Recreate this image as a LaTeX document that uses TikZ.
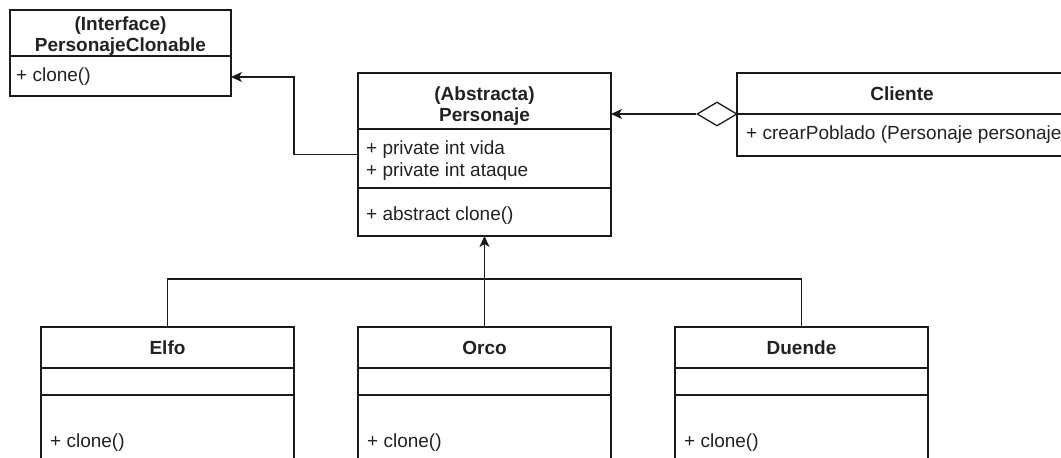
\documentclass[tikz,border=0pt]{standalone}
\usepackage{fontspec}
\setmainfont{Liberation Sans}
\usetikzlibrary{arrows.meta,shapes.geometric}
\definecolor{linec}{HTML}{1A1A1A}
\definecolor{txt}{HTML}{222222}
\begin{document}
\begin{tikzpicture}[x=1pt,y=-1pt,
  classbox/.style={draw=linec, line width=1.3pt, fill=white, anchor=north west,
    inner sep=0pt, outer sep=0pt, minimum width=253pt},
  sepline/.style={draw=linec, line width=1.3pt},
  classtitle/.style={font=\bfseries\fontsize{19}{21}\selectfont, text=txt,
    align=center, inner sep=0pt},
  member/.style={font=\fontsize{19}{22}\selectfont, text=txt, anchor=west,
    align=left, inner sep=0pt},
  conn/.style={draw=linec, line width=1.3pt},
  tip/.style={-{Stealth[length=11pt,width=10pt,inset=3pt]}},
  aggr/.style={diamond, draw=linec, fill=white, line width=1.3pt,
    minimum width=40pt, minimum height=24pt, inner sep=0pt}
]
\useasboundingbox (0,0) rectangle (1061,458);
\clip (0,0) rectangle (1061,458);

% Interface PersonajeClonable
\node[classbox, minimum width=221pt, minimum height=86pt] (iface) at (10,10) {};
\draw[sepline] ([yshift=-46pt]iface.north west) -- ([yshift=-46pt]iface.north east);
\node[classtitle] (ifaceT) at (120.5,36.5) {(Interface)\\PersonajeClonable};
\node[member] (ifaceM) at (16,77) {+ clone()};

% Abstract class Personaje
\node[classbox, minimum height=163pt] (pers) at (358,73) {};
\draw[sepline] ([yshift=-56pt]pers.north west) -- ([yshift=-56pt]pers.north east);
\draw[sepline] ([yshift=-115pt]pers.north west) -- ([yshift=-115pt]pers.north east);
\node[classtitle] (persT) at (484.5,106) {(Abstracta)\\Personaje};
\node[member] (persA1) at (366,150) {+ private int vida};
\node[member] (persA2) at (366,172) {+ private int ataque};
\node[member] (persM) at (366,216) {+ abstract clone()};

% Cliente
\node[classbox, minimum width=400pt, minimum height=83pt] (cli) at (737,73) {};
\draw[sepline] ([yshift=-41pt]cli.north west) -- ([yshift=-41pt]cli.north east);
\node[classtitle] (cliT) at (902,94) {Cliente};
\node[member] (cliM) at (746,135) {+ crearPoblado (Personaje personaje)};

% Concrete subclasses
\node[classbox, minimum height=160pt] (elfo) at (41,327) {};
\node[classbox, minimum height=160pt] (orco) at (358,327) {};
\node[classbox, minimum height=160pt] (duende) at (675,327) {};
\foreach \c in {elfo,orco,duende}{
  \draw[sepline] ([yshift=-41pt]\c.north west) -- ([yshift=-41pt]\c.north east);
  \draw[sepline] ([yshift=-68pt]\c.north west) -- ([yshift=-68pt]\c.north east);
}
\node[classtitle] (elfoT) at (167.5,348) {Elfo};
\node[classtitle] (orcoT) at (484.5,348) {Orco};
\node[classtitle] (duendeT) at (801.5,348) {Duende};
\node[member] (elfoM) at (50,443) {+ clone()};
\node[member] (orcoM) at (367,443) {+ clone()};
\node[member] (duendeM) at (684,443) {+ clone()};

% Aggregation Cliente -> Personaje
\node[aggr] (agg) at (717,114) {};
\draw[conn,tip] (agg.west) -- (agg.west -| pers.east);

% Personaje implements PersonajeClonable
\draw[conn,tip] (pers.west) -- ++(-64,0) |- ([yshift=-24pt]iface.east);

% Subclasses extend Personaje
\draw[conn,tip] (orco.north) -- (pers.south);
\draw[conn] (elfo.north) -- ++(0,-48) -| (duende.north);
\end{tikzpicture}
\end{document}
